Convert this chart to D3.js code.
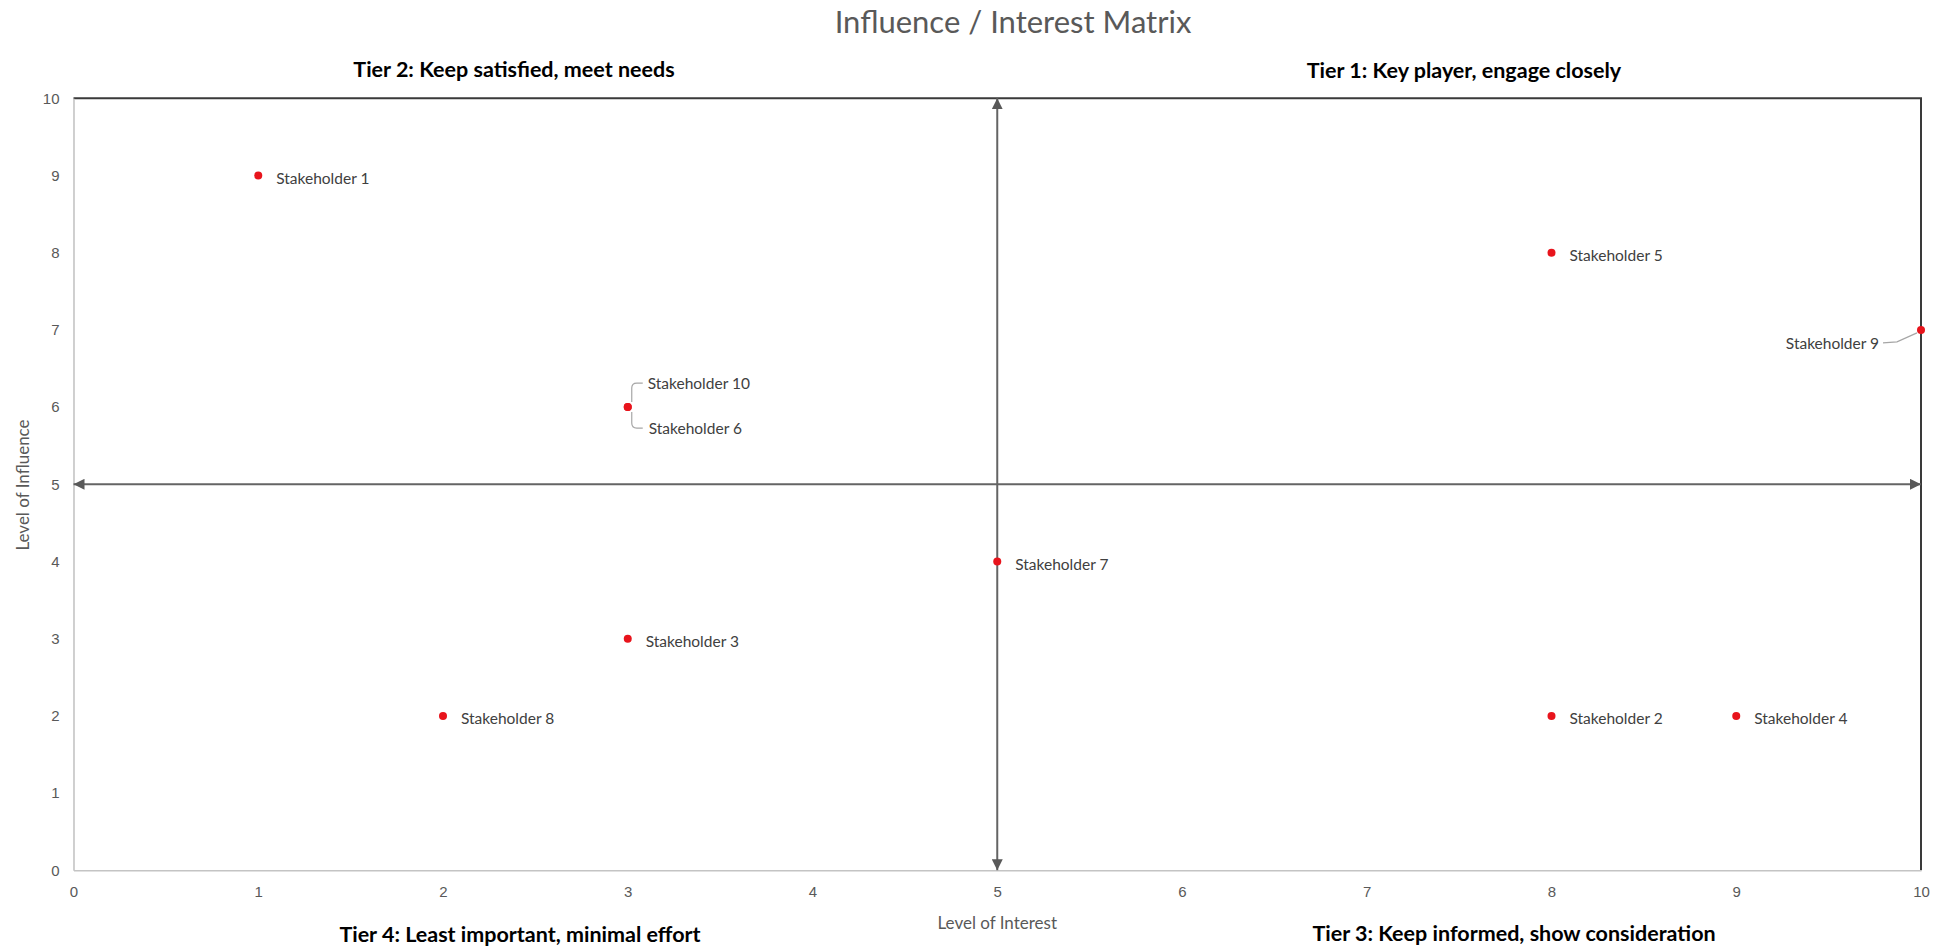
<!DOCTYPE html>
<html>
<head>
<meta charset="utf-8">
<script src="https://cdn.jsdelivr.net/npm/d3@7"></script>
<style>
  html, body { margin: 0; padding: 0; background: #ffffff; }
  svg { display: block; font-family: Lato, "Open Sans", sans-serif; }
</style>
</head>
<body>
<svg id="chart" width="1951" height="948"></svg>
<script>
// Stakeholder positions on the influence / interest grid
const stakeholders = ["Stakeholder 1", "Stakeholder 2", "Stakeholder 3", "Stakeholder 4", "Stakeholder 5",
                      "Stakeholder 6", "Stakeholder 7", "Stakeholder 8", "Stakeholder 9", "Stakeholder 10"];
const interest  = [1, 8, 3, 9, 8, 3, 5, 2, 10, 3];
const influence = [9, 2, 3, 2, 8, 6, 4, 2, 7, 6];

const xTicks = [0, 1, 2, 3, 4, 5, 6, 7, 8, 9, 10];
const yTicks = [0, 1, 2, 3, 4, 5, 6, 7, 8, 9, 10];

const chartTitle = "Influence / Interest Matrix";
const xTitle = "Level of Interest";
const yTitle = "Level of Influence";
const quadrantTitles = [
  "Tier 2: Keep satisfied, meet needs",
  "Tier 1: Key player, engage closely",
  "Tier 4: Least important, minimal effort",
  "Tier 3: Keep informed, show consideration"
];
const midInterest = 5;
const midInfluence = 5;

// ---- layout ----
const svg = d3.select("#chart");
const plot = { left: 73.5, right: 1921, top: 98.3, bottom: 870.3 };

const x = d3.scaleLinear().domain([0, 10]).range([plot.left, plot.right]);
const y = d3.scaleLinear().domain([0, 10]).range([plot.bottom, plot.top]);

const defs = svg.append("defs");
defs.append("marker")
  .attr("id", "arrow")
  .attr("viewBox", "0 0 10 10")
  .attr("refX", 10).attr("refY", 5)
  .attr("markerUnits", "userSpaceOnUse")
  .attr("markerWidth", 11).attr("markerHeight", 11)
  .attr("orient", "auto-start-reverse")
  .append("path")
  .attr("d", "M0,0 L10,5 L0,10 Z")
  .attr("fill", "#595959");

// plot frame (top and right edges)
svg.append("path")
  .attr("d", `M${plot.left},${plot.top} H${plot.right} V${plot.bottom}`)
  .attr("fill", "none")
  .attr("stroke", "#3a3a3a")
  .attr("stroke-width", 2);

// axes
const xAxis = d3.axisBottom(x).tickValues(xTicks).tickSize(0).tickPadding(16).tickFormat(d3.format("d"));
const yAxis = d3.axisLeft(y).tickValues(yTicks).tickSize(0).tickPadding(14).tickFormat(d3.format("d"));

const gx = svg.append("g").attr("transform", `translate(0,${plot.bottom})`).call(xAxis);
const gy = svg.append("g").attr("transform", `translate(${plot.left},0)`).call(yAxis);
[gx, gy].forEach(g => {
  g.select(".domain").attr("stroke", "#c4c4c4").attr("stroke-width", 1.6);
  g.selectAll("text").attr("fill", "#595959").style("font-size", "15px");
});

// quadrant divider arrows
svg.append("line")
  .attr("x1", x(0)).attr("x2", x(10))
  .attr("y1", y(midInfluence)).attr("y2", y(midInfluence))
  .attr("stroke", "#646464").attr("stroke-width", 2)
  .attr("marker-start", "url(#arrow)").attr("marker-end", "url(#arrow)");
svg.append("line")
  .attr("x1", x(midInterest)).attr("x2", x(midInterest))
  .attr("y1", y(0)).attr("y2", y(10))
  .attr("stroke", "#646464").attr("stroke-width", 2)
  .attr("marker-start", "url(#arrow)").attr("marker-end", "url(#arrow)");

// titles
svg.append("text")
  .attr("x", 1013).attr("y", 33)
  .attr("text-anchor", "middle")
  .attr("fill", "#595959")
  .style("font-size", "31px")
  .text(chartTitle);

svg.append("text")
  .attr("x", x(5)).attr("y", 929)
  .attr("text-anchor", "middle")
  .attr("fill", "#595959")
  .style("font-size", "17px")
  .text(xTitle);

svg.append("text")
  .attr("transform", `translate(29,485) rotate(-90)`)
  .attr("text-anchor", "middle")
  .attr("fill", "#595959")
  .style("font-size", "17px")
  .text(yTitle);

const quadPos = [[514, 77], [1464, 78], [520, 942], [1514, 941]];
svg.append("g").selectAll("text")
  .data(quadrantTitles)
  .join("text")
  .attr("x", (d, i) => quadPos[i][0])
  .attr("y", (d, i) => quadPos[i][1])
  .attr("text-anchor", "middle")
  .attr("fill", "#000000")
  .style("font-size", "21.5px")
  .style("font-weight", "bold")
  .text(d => d);

// points
const pts = stakeholders.map((name, i) => ({ name, ix: interest[i], iy: influence[i] }));

svg.append("g").selectAll("circle")
  .data(pts)
  .join("circle")
  .attr("cx", d => x(d.ix))
  .attr("cy", d => y(d.iy))
  .attr("r", 4)
  .attr("fill", "#e8141c");

// data labels: default to the right of the point; a few are moved to avoid collisions
const labelG = svg.append("g").style("font-size", "15.5px").attr("fill", "#404040");
const leader = svg.append("g").attr("fill", "none").attr("stroke", "#a6a6a6").attr("stroke-width", 1.2);

pts.forEach(d => {
  const px = x(d.ix), py = y(d.iy);
  if (d.name === "Stakeholder 9") {
    labelG.append("text").attr("x", px - 42).attr("y", py + 19).attr("text-anchor", "end").text(d.name);
    leader.append("path").attr("d", `M${px - 38},${py + 13} L${px - 24},${py + 12} L${px - 4},${py + 3}`);
  } else if (d.name === "Stakeholder 10") {
    labelG.append("text").attr("x", px + 20).attr("y", py - 18).text(d.name);
    leader.append("path").attr("d", `M${px + 4},${py - 5} V${py - 19} Q${px + 4},${py - 24} ${px + 9},${py - 24} H${px + 15}`);
  } else if (d.name === "Stakeholder 6") {
    labelG.append("text").attr("x", px + 21).attr("y", py + 27).text(d.name);
    leader.append("path").attr("d", `M${px + 4},${py + 5} V${py + 16} Q${px + 4},${py + 21} ${px + 9},${py + 21} H${px + 15}`);
  } else {
    labelG.append("text").attr("x", px + 18).attr("y", py + 8).text(d.name);
  }
});
</script>
</body>
</html>
